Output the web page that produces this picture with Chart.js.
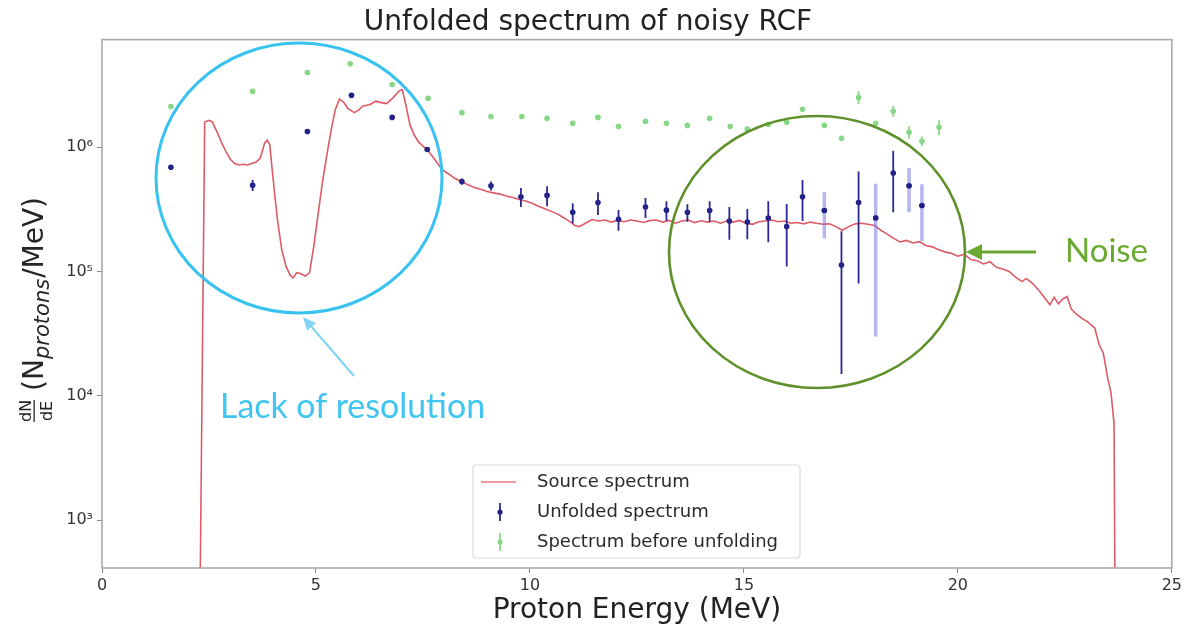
<!DOCTYPE html>
<html>
<head>
<meta charset="utf-8">
<title>Unfolded spectrum of noisy RCF</title>
<script src="https://cdn.jsdelivr.net/npm/chart.js@4.4.1/dist/chart.umd.min.js"></script>
<style>
  html, body { margin: 0; padding: 0; background: #fff; }
  #chart { display: block; }
</style>
</head>
<body>
<canvas id="chart" width="1185" height="628"></canvas>
<script>
// source spectrum (MeV, protons/MeV)
var sourceEnergy = [2.28, 2.40, 2.50, 2.58, 2.70, 2.80, 2.90, 3.00, 3.10, 3.20, 3.30, 3.40, 3.50, 3.60, 3.70, 3.80, 3.86, 3.92,
  4.00, 4.10, 4.20, 4.30, 4.40, 4.47, 4.55, 4.65, 4.75, 4.85, 4.95, 5.05, 5.15, 5.25, 5.35, 5.45, 5.55, 5.65, 5.75, 5.90,
  6.00, 6.10, 6.25, 6.40, 6.50, 6.65, 6.80, 6.95, 7.02, 7.10, 7.20, 7.30, 7.40, 7.50, 7.60, 7.75, 7.95, 8.10, 8.25, 8.40,
  8.55, 8.70, 8.85, 9.00, 9.15, 9.30, 9.45, 9.60, 9.75, 9.90, 10.05, 10.20, 10.35, 10.50, 10.65, 10.80, 10.95, 11.05, 11.15,
  11.30, 11.45, 11.60, 11.75, 11.90, 12.05, 12.20, 12.35, 12.50, 12.65, 12.80, 12.95, 13.10, 13.25, 13.40, 13.55, 13.70,
  13.85, 14.00, 14.15, 14.30, 14.45, 14.60, 14.75, 14.90, 15.05, 15.20, 15.35, 15.50, 15.65, 15.80, 15.95, 16.10, 16.25,
  16.40, 16.55, 16.70, 16.85, 17.00, 17.15, 17.30, 17.45, 17.60, 17.75, 17.90, 18.05, 18.20, 18.35, 18.50, 18.65, 18.80,
  18.95, 19.10, 19.25, 19.40, 19.55, 19.70, 19.85, 20.00, 20.15, 20.30, 20.45, 20.60, 20.75, 20.90, 21.05, 21.20, 21.35,
  21.50, 21.60, 21.75, 21.90, 22.05, 22.15, 22.25, 22.35, 22.45, 22.55, 22.65, 22.75, 22.90, 23.05, 23.20, 23.30, 23.40,
  23.50, 23.58, 23.65, 23.68];
var sourceFlux = [100, 1.6e6, 1.65e6, 1.6e6, 1.3e6, 1.08e6, 9.2e5, 8.0e5, 7.4e5, 7.2e5, 7.3e5, 7.2e5, 7.4e5, 7.6e5, 8.2e5, 1.08e6, 1.14e6, 1.05e6,
  5.5e5, 2.6e5, 1.5e5, 1.1e5, 9.3e4, 8.9e4, 9.8e4, 9.6e4, 9.2e4, 9.8e4, 1.6e5, 2.9e5, 5.2e5, 8.5e5, 1.35e6, 2.0e6, 2.45e6, 2.3e6, 2.05e6, 1.9e6,
  2.0e6, 2.15e6, 2.2e6, 2.35e6, 2.3e6, 2.25e6, 2.5e6, 2.85e6, 2.9e6, 2.2e6, 1.5e6, 1.25e6, 1.1e6, 1.02e6, 9.6e5, 8.2e5, 6.6e5, 6.1e5, 5.6e5, 5.3e5,
  5.0e5, 4.75e5, 4.6e5, 4.4e5, 4.3e5, 4.2e5, 4.05e5, 3.95e5, 3.8e5, 3.7e5, 3.55e5, 3.35e5, 3.2e5, 3.05e5, 2.9e5, 2.7e5, 2.5e5, 2.35e5, 2.3e5,
  2.45e5, 2.62e5, 2.55e5, 2.6e5, 2.5e5, 2.58e5, 2.52e5, 2.6e5, 2.55e5, 2.48e5, 2.57e5, 2.6e5, 2.5e5, 2.58e5, 2.45e5, 2.55e5, 2.6e5,
  2.48e5, 2.56e5, 2.5e5, 2.55e5, 2.45e5, 2.55e5, 2.5e5, 2.58e5, 2.45e5, 2.4e5, 2.52e5, 2.55e5, 2.6e5, 2.52e5, 2.55e5, 2.45e5, 2.48e5,
  2.42e5, 2.5e5, 2.45e5, 2.4e5, 2.42e5, 2.3e5, 2.15e5, 2.3e5, 2.42e5, 2.45e5, 2.4e5, 2.35e5, 2.15e5, 2.0e5, 1.85e5, 1.73e5, 1.78e5,
  1.7e5, 1.74e5, 1.62e5, 1.58e5, 1.5e5, 1.44e5, 1.4e5, 1.33e5, 1.38e5, 1.25e5, 1.22e5, 1.15e5, 1.2e5, 1.08e5, 1.05e5, 1.0e5, 9.0e4,
  8.3e4, 8.8e4, 8.0e4, 7.0e4, 6.0e4, 5.4e4, 6.2e4, 5.5e4, 6.0e4, 6.3e4, 5.0e4, 4.6e4, 4.2e4, 3.9e4, 3.5e4, 2.6e4, 2.2e4,
  1.4e4, 1.05e4, 6.0e3, 100];

// unfolded spectrum with 1-sigma errors
var unfoldedEnergy = [1.61, 3.52, 4.80, 5.83, 6.78, 7.60, 8.41, 9.09, 9.79, 10.40, 11.00, 11.59, 12.07, 12.70, 13.19,
  13.68, 14.20, 14.66, 15.08, 15.57, 16.00, 16.37, 16.88, 17.28, 17.68, 18.08, 18.49, 18.86, 19.16];
var unfoldedFlux = [6.9e5, 4.95e5, 1.34e6, 2.62e6, 1.74e6, 9.6e5, 5.3e5, 4.9e5, 4.0e5, 4.1e5, 3.0e5, 3.6e5, 2.63e5, 3.3e5, 3.12e5,
  3.0e5, 3.1e5, 2.55e5, 2.5e5, 2.7e5, 2.3e5, 4.0e5, 3.1e5, 1.13e5, 3.6e5, 2.7e5, 6.2e5, 4.9e5, 3.4e5];
var unfoldedErr = [0.2e5, 0.5e5, 0.4e5, 0.5e5, 0.4e5, 0.3e5, 0.3e5, 0.4e5, 0.7e5, 0.75e5, 0.55e5, 0.75e5, 0.5e5, 0.6e5, 0.56e5,
  0.48e5, 0.58e5, 0.75e5, 0.68e5, 0.98e5, 1.2e5, 1.45e5, 1.25e5, 0.98e5, 2.8e5, 2.4e5, 3.2e5, 1.9e5, 1.65e5];

// measured (before unfolding)
var measuredEnergy = [1.61, 3.52, 4.80, 5.80, 6.78, 7.62, 8.41, 9.09, 9.81, 10.40, 11.00, 11.59, 12.07, 12.70, 13.19,
  13.68, 14.20, 14.68, 15.08, 15.57, 16.00, 16.37, 16.88, 17.28, 17.68, 18.08, 18.49, 18.86, 19.16, 19.56];
var measuredFlux = [2.13e6, 2.82e6, 4.0e6, 4.7e6, 3.2e6, 2.48e6, 1.9e6, 1.77e6, 1.77e6, 1.71e6, 1.56e6, 1.74e6, 1.47e6, 1.62e6, 1.56e6,
  1.5e6, 1.71e6, 1.47e6, 1.4e6, 1.53e6, 1.59e6, 2.02e6, 1.5e6, 1.18e6, 2.52e6, 1.56e6, 1.95e6, 1.32e6, 1.12e6, 1.45e6];
var measuredErr = [0.05e6, 0.05e6, 0.06e6, 0.06e6, 0.05e6, 0.05e6, 0.04e6, 0.04e6, 0.04e6, 0.04e6, 0.04e6, 0.04e6, 0.04e6, 0.04e6, 0.04e6,
  0.04e6, 0.05e6, 0.04e6, 0.04e6, 0.05e6, 0.05e6, 0.06e6, 0.05e6, 0.05e6, 0.3e6, 0.06e6, 0.2e6, 0.15e6, 0.1e6, 0.2e6];

var xTicks = [0, 5, 10, 15, 20, 25];
var yTicks = [1e3, 1e4, 1e5, 1e6];
var seriesLabels = ['Source spectrum', 'Unfolded spectrum', 'Spectrum before unfolding'];

// the wide pale error bars of the unfolded series
var paleBars = [22, 25, 27, 28];

var RED = '#dd5a66', BLUE = '#1e1e84', GREEN = '#86d886';
var SUP = { '3': '\u00b3', '4': '\u2074', '5': '\u2075', '6': '\u2076' };

function pairs(xs, ys) {
  return xs.map(function (x, i) { return { x: x, y: ys[i] }; });
}

// error bars through the chart scales
var errorBars = {
  id: 'errorBars',
  afterDatasetsDraw: function (chart) {
    var ctx = chart.ctx, xs = chart.scales.x, ys = chart.scales.y, a = chart.chartArea;
    ctx.save();
    ctx.beginPath();
    ctx.rect(a.left, a.top, a.right - a.left, a.bottom - a.top);
    ctx.clip();
    chart.data.datasets.forEach(function (ds) {
      if (!ds.yErr) return;
      ds.data.forEach(function (p, i) {
        var px = xs.getPixelForValue(p.x);
        var lo = Math.max(p.y - ds.yErr[i], 1);
        var y0 = ys.getPixelForValue(lo), y1 = ys.getPixelForValue(p.y + ds.yErr[i]);
        var pale = ds.paleBars && ds.paleBars.indexOf(i) >= 0;
        ctx.strokeStyle = pale ? 'rgba(120,120,225,0.55)' : ds.barColor;
        ctx.lineWidth = pale ? 3.5 : 1.8;
        ctx.beginPath();
        ctx.moveTo(px, y0);
        ctx.lineTo(px, y1);
        ctx.stroke();
        if (pale) {
          ctx.fillStyle = BLUE;
          ctx.beginPath();
          ctx.arc(px, ys.getPixelForValue(p.y), 2.6, 0, Math.PI * 2);
          ctx.fill();
        }
      });
    });
    ctx.restore();
  }
};

// axes frame on all four sides
var frame = {
  id: 'frame',
  afterDatasetsDraw: function (chart) {
    var ctx = chart.ctx, a = chart.chartArea;
    ctx.save();
    ctx.strokeStyle = '#a9a9a9';
    ctx.lineWidth = 1.6;
    ctx.strokeRect(a.left, a.top, a.right - a.left, a.bottom - a.top);
    ctx.restore();
  }
};

// y label: dN/dE (N_protons/MeV)
var yLabel = {
  id: 'yLabel',
  afterDraw: function (chart) {
    var ctx = chart.ctx;
    ctx.save();
    ctx.translate(43, 422);
    ctx.rotate(-Math.PI / 2);
    ctx.fillStyle = '#262626';
    ctx.textAlign = 'left';
    ctx.textBaseline = 'alphabetic';
    ctx.font = '16px "DejaVu Sans"';
    var wN = ctx.measureText('dN').width, wE = ctx.measureText('dE').width, fw = Math.max(wN, wE);
    ctx.fillText('dN', (fw - wN) / 2, -12);
    ctx.fillText('dE', (fw - wE) / 2, 9);
    ctx.fillRect(0, -9.5, fw, 1.3);
    var x = fw + 9;
    ctx.font = '28px "DejaVu Sans"';
    ctx.fillText('(N', x, 0);
    x += ctx.measureText('(N').width;
    ctx.font = 'italic 21px "DejaVu Sans"';
    ctx.fillText('protons', x, 6);
    x += ctx.measureText('protons').width + 1;
    ctx.font = '28px "DejaVu Sans"';
    ctx.fillText('/MeV)', x, 0);
    ctx.restore();
  }
};

// legend box inside the plot
var innerLegend = {
  id: 'innerLegend',
  afterDraw: function (chart) {
    var ctx = chart.ctx, a = chart.chartArea;
    var bx = 473, by = a.bottom - 103, bw = 327, bh = 93;
    ctx.save();
    ctx.fillStyle = 'rgba(255,255,255,0.85)';
    ctx.strokeStyle = '#dcdcdc';
    ctx.lineWidth = 1.2;
    ctx.beginPath();
    ctx.roundRect(bx, by, bw, bh, 3);
    ctx.fill();
    ctx.stroke();
    ctx.font = '18px "DejaVu Sans"';
    ctx.fillStyle = '#2a2a2a';
    ctx.textBaseline = 'middle';
    chart.data.datasets.forEach(function (ds, i) {
      var cy = by + 17 + i * 30;
      if (i === 0) {
        ctx.strokeStyle = 'rgba(221,90,102,0.6)';
        ctx.lineWidth = 2.2;
        ctx.beginPath();
        ctx.moveTo(bx + 8, cy);
        ctx.lineTo(bx + 43, cy);
        ctx.stroke();
      } else {
        ctx.strokeStyle = ds.barColor;
        ctx.lineWidth = 1.8;
        ctx.beginPath();
        ctx.moveTo(bx + 27, cy - 9);
        ctx.lineTo(bx + 27, cy + 9);
        ctx.stroke();
        ctx.fillStyle = ds.pointBackgroundColor;
        ctx.beginPath();
        ctx.arc(bx + 27, cy, 2.6, 0, Math.PI * 2);
        ctx.fill();
        ctx.fillStyle = '#2a2a2a';
      }
      ctx.fillText(ds.label, bx + 64, cy);
    });
    ctx.restore();
  }
};

// circled regions with their notes
function arrow(ctx, x0, y0, x1, y1, color, lw, head, half) {
  var ang = Math.atan2(y1 - y0, x1 - x0);
  var bxp = x1 - head * Math.cos(ang), byp = y1 - head * Math.sin(ang);
  ctx.strokeStyle = color;
  ctx.fillStyle = color;
  ctx.lineWidth = lw;
  ctx.beginPath();
  ctx.moveTo(x0, y0);
  ctx.lineTo(bxp, byp);
  ctx.stroke();
  ctx.beginPath();
  ctx.moveTo(x1, y1);
  ctx.lineTo(bxp + half * Math.sin(ang), byp - half * Math.cos(ang));
  ctx.lineTo(bxp - half * Math.sin(ang), byp + half * Math.cos(ang));
  ctx.closePath();
  ctx.fill();
}

function fitText(ctx, text, family, width) {
  ctx.font = '32px ' + family;
  var size = 32 * width / ctx.measureText(text).width;
  ctx.font = size.toFixed(1) + 'px ' + family;
}

var callouts = {
  id: 'callouts',
  afterDraw: function (chart) {
    var ctx = chart.ctx;
    ctx.save();
    ctx.strokeStyle = '#38c2ef';
    ctx.lineWidth = 3;
    ctx.beginPath();
    ctx.ellipse(299, 178, 143, 135, 0, 0, Math.PI * 2);
    ctx.stroke();
    arrow(ctx, 354, 376, 303, 317, '#84d4f5', 2.2, 13, 6);
    ctx.fillStyle = '#3ec5f1';
    ctx.textBaseline = 'alphabetic';
    fitText(ctx, 'Lack of resolution', 'Lato', 265);
    ctx.fillText('Lack of resolution', 220, 418);

    ctx.strokeStyle = '#5e902b';
    ctx.lineWidth = 2.6;
    ctx.beginPath();
    ctx.ellipse(817, 252, 148, 136, 0, 0, Math.PI * 2);
    ctx.stroke();
    arrow(ctx, 1036, 252, 966, 252, '#6aa832', 3, 16, 8);
    ctx.fillStyle = '#6aaa30';
    fitText(ctx, 'Noise', 'Lato', 83);
    ctx.fillText('Noise', 1065, 262);
    ctx.restore();
  }
};

new Chart(document.getElementById('chart').getContext('2d'), {
  type: 'scatter',
  data: {
    datasets: [
      {
        label: seriesLabels[0],
        data: pairs(sourceEnergy, sourceFlux),
        showLine: true,
        borderColor: RED,
        borderWidth: 1.6,
        pointRadius: 0,
        tension: 0,
        order: 3
      },
      {
        label: seriesLabels[1],
        data: pairs(unfoldedEnergy, unfoldedFlux),
        yErr: unfoldedErr,
        paleBars: paleBars,
        barColor: '#28288e',
        pointBackgroundColor: BLUE,
        pointBorderWidth: 0,
        pointRadius: 2.8,
        order: 1
      },
      {
        label: seriesLabels[2],
        data: pairs(measuredEnergy, measuredFlux),
        yErr: measuredErr,
        barColor: GREEN,
        pointBackgroundColor: GREEN,
        pointBorderWidth: 0,
        pointRadius: 2.8,
        order: 2
      }
    ]
  },
  options: {
    responsive: false,
    animation: false,
    devicePixelRatio: 1,
    layout: { padding: { left: 0, right: 9, top: 0, bottom: 0 } },
    plugins: {
      legend: { display: false },
      tooltip: { enabled: false },
      title: {
        display: true,
        text: 'Unfolded spectrum of noisy RCF',
        color: '#222',
        font: { family: 'DejaVu Sans', size: 28, weight: 'normal', lineHeight: 1.2 },
        padding: { top: 6, bottom: 0 }
      }
    },
    scales: {
      x: {
        type: 'linear',
        min: 0,
        max: 25,
        afterBuildTicks: function (s) { s.ticks = xTicks.map(function (v) { return { value: v }; }); },
        afterFit: function (s) { s.height = 60; },
        grid: { drawOnChartArea: false, tickLength: 5, color: '#8a8a8a' },
        border: { display: false },
        ticks: { color: '#333', padding: 3, maxRotation: 0, font: { family: 'DejaVu Sans', size: 16 } },
        title: {
          display: true,
          text: 'Proton Energy (MeV)',
          color: '#222',
          font: { family: 'DejaVu Sans', size: 28, lineHeight: 1.2 },
          padding: { top: 0, bottom: 0 }
        }
      },
      y: {
        type: 'logarithmic',
        min: 411,
        max: 7.36e6,
        afterBuildTicks: function (s) { s.ticks = yTicks.map(function (v) { return { value: v }; }); },
        afterFit: function (s) { s.width = 102; },
        grid: { drawOnChartArea: false, tickLength: 5, color: '#8a8a8a' },
        border: { display: false },
        ticks: {
          color: '#333',
          padding: 4,
          autoSkip: false,
          font: { family: 'DejaVu Sans', size: 16 },
          callback: function (v) { return '10' + SUP[String(Math.round(Math.log10(v)))]; }
        }
      }
    }
  },
  plugins: [errorBars, frame, yLabel, innerLegend, callouts]
});
</script>
</body>
</html>
